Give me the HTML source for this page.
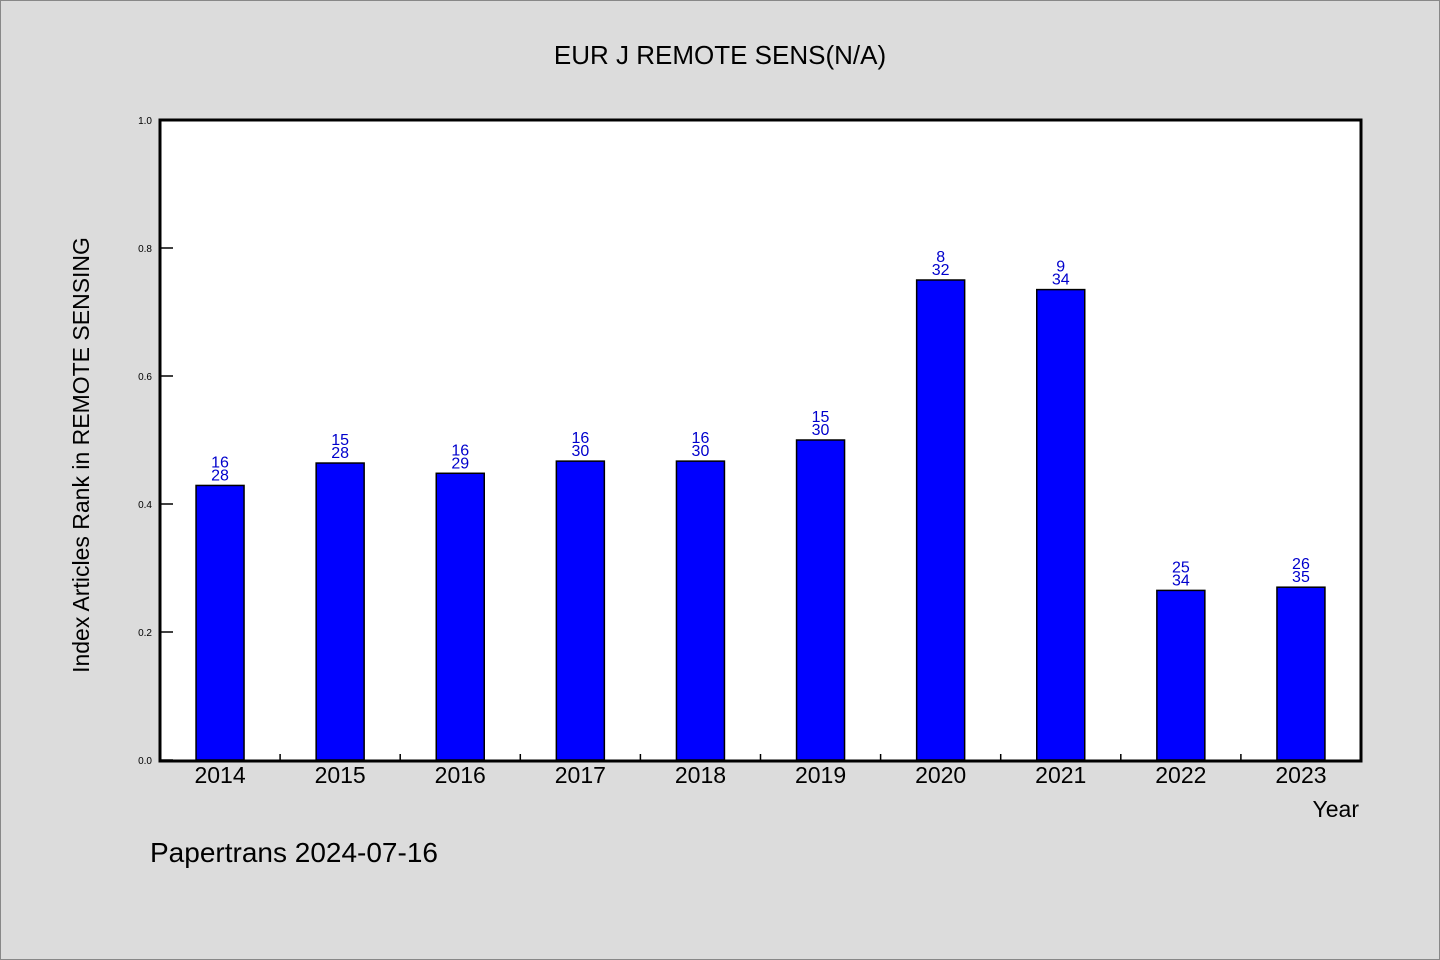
<!DOCTYPE html>
<html><head><meta charset="utf-8"><style>
html,body{margin:0;padding:0;background:#dcdcdc;}
svg{display:block;font-family:"WenQuanYi Zen Hei","Liberation Sans",sans-serif;}
</style></head><body>
<svg id="chart" width="1440" height="960" viewBox="0 0 1440 960">
<rect x="0.5" y="0.5" width="1439" height="959" fill="#dcdcdc" stroke="#888"/>
<text x="720" y="64" font-size="26" text-anchor="middle" fill="#000">EUR J REMOTE SENS(N/A)</text>
<rect x="160" y="120" width="1201" height="641" fill="#fff"/>
<g id="marks"></g>
<rect x="160" y="120" width="1201" height="641" fill="none" stroke="#000" stroke-width="3"/>
<text transform="translate(89,455) rotate(-90)" font-size="23" text-anchor="middle" fill="#000">Index Articles Rank in REMOTE SENSING</text>
<text x="1359" y="817" font-size="23" text-anchor="end" fill="#000">Year</text>
<text x="150" y="862" font-size="28" fill="#000">Papertrans 2024-07-16</text>
</svg>
<script>
const years=["2014","2015","2016","2017","2018","2019","2020","2021","2022","2023"];
const values=[0.429,0.464,0.448,0.467,0.467,0.5,0.75,0.735,0.265,0.27];
const ranks=["16","15","16","16","16","15","8","9","25","26"];
const totals=["28","28","29","30","30","30","32","34","34","35"];
const yTicks=[0,0.2,0.4,0.6,0.8,1.0];
const yTickLabels=["0.0","0.2","0.4","0.6","0.8","1.0"];
const NS="http://www.w3.org/2000/svg";
const X0=160,X1=1361,Y0=760,Y1=120;
const band=(X1-X0)/years.length;
function xC(i){return X0+band*(i+0.5);}
function yS(v){return Y0-(Y0-Y1)*v;}
const g=document.getElementById('marks');
function mk(t,a){const e=document.createElementNS(NS,t);for(const k in a)e.setAttribute(k,a[k]);g.appendChild(e);return e;}
yTicks.forEach((v,i)=>{
 const l=mk('line',{x1:X0,x2:X0+13,y1:yS(v),y2:yS(v),stroke:'#000','stroke-width':1.5});
 
 
 const t=mk('text',{x:X0-8,y:yS(v)+4,'font-size':10,'text-anchor':'end',fill:'#000'});
 
 
 t.textContent=yTickLabels[i];
});
for(let i=1;i<years.length;i++){
 const l=mk('line',{x1:X0+band*i,x2:X0+band*i,y1:Y0,y2:Y0-6,stroke:'#000','stroke-width':1.5});
 
 
}
years.forEach((y,i)=>{
 const bw=48,top=yS(values[i]);
 const r=mk('rect',{x:xC(i)-bw/2,y:top,width:bw,height:Y0-top,fill:'#0000ff',stroke:'#000','stroke-width':1.5});
 
 
 const a=mk('text',{x:xC(i),y:top-18,'font-size':16,'text-anchor':'middle',fill:'#0000cc'});
 
 
 a.textContent=ranks[i];
 const b=mk('text',{x:xC(i),y:top-5,'font-size':16,'text-anchor':'middle',fill:'#0000cc'});
 
 
 b.textContent=totals[i];
 const t=mk('text',{x:xC(i),y:783,'font-size':23,'text-anchor':'middle',fill:'#000'});
 
 
 t.textContent=y;
});
</script>
</body></html>
